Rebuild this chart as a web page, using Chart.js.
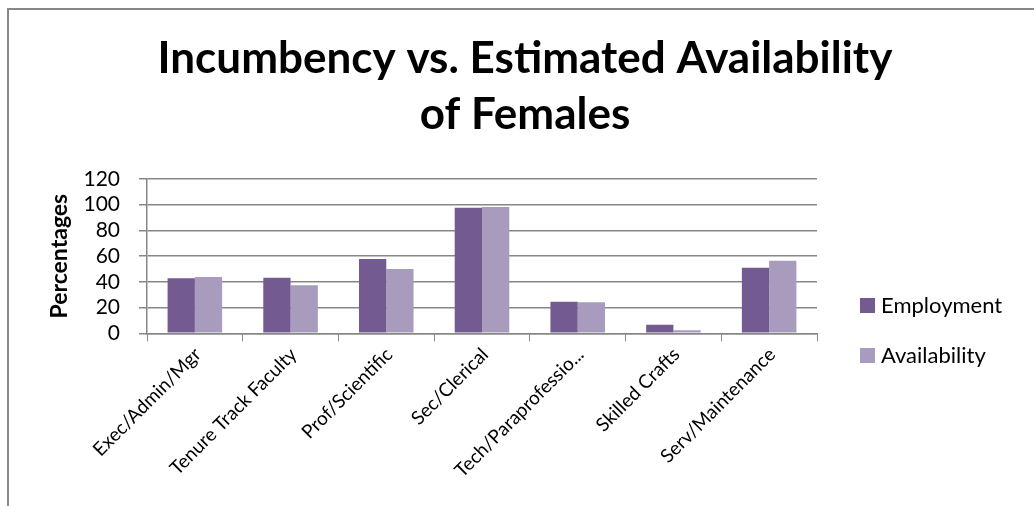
<!DOCTYPE html>
<html lang="en">
<head>
  <meta charset="UTF-8" />
  <title>Incumbency vs. Estimated Availability of Females</title>
  <script src="https://cdn.jsdelivr.net/npm/chart.js"></script>
  <style>
    body {
      margin: 0;
      background: #ffffff;
      overflow: hidden;
    }
    .frame {
      position: absolute;
      left: 7px;
      top: 8px;
      width: 1100px;
      height: 600px;
      border-left: 2px solid #878787;
      border-top: 2px solid #878787;
    }
    .chart-box {
      position: absolute;
      left: 0;
      top: 0;
      width: 1034px;
      height: 506px;
    }
  </style>
</head>
<body>
  <div class="frame"></div>
  <div class="chart-box">
    <canvas id="femaleChart"></canvas>
  </div>

  <script>
    // chart data
    const categories = ['Exec/Admin/Mgr', 'Tenure Track Faculty', 'Prof/Scientific', 'Sec/Clerical',
      'Tech/Paraprofessio...', 'Skilled Crafts', 'Serv/Maintenance'];
    const employment = [42.8, 43.3, 57.8, 97.7, 24.6, 6.7, 51.0];
    const availability = [43.8, 37.3, 50.0, 98.2, 24.1, 2.3, 56.5];
    const yTicks = [0, 20, 40, 60, 80, 100, 120];

    const fontFamily = 'Lato, "Open Sans", sans-serif';

    // legend drawn on the right side, like the original
    const sideLegend = {
      id: 'sideLegend',
      afterDraw(chart) {
        const ctx = chart.ctx;
        ctx.save();
        ctx.font = '22px ' + fontFamily;
        ctx.textBaseline = 'middle';
        chart.data.datasets.forEach((ds, i) => {
          const y = 305 + i * 50;
          ctx.fillStyle = ds.backgroundColor;
          ctx.fillRect(860, y - 7, 15, 15);
          ctx.fillStyle = '#000';
          ctx.fillText(ds.label, 881, y + 1);
        });
        ctx.restore();
      }
    };

    const ctx = document.getElementById('femaleChart').getContext('2d');
    const femaleChart = new Chart(ctx, {
      type: 'bar',
      data: {
        labels: categories,
        datasets: [
          { label: 'Employment', data: employment, backgroundColor: '#735a91' },
          { label: 'Availability', data: availability, backgroundColor: '#a99bbe' }
        ]
      },
      options: {
        responsive: true,
        maintainAspectRatio: false,
        animation: false,
        datasets: {
          bar: { barPercentage: 1, categoryPercentage: 0.57 }
        },
        layout: {
          padding: { left: 20, right: 4, top: 0, bottom: 22 }
        },
        plugins: {
          legend: { display: false },
          tooltip: { enabled: false },
          title: {
            display: true,
            text: ['Incumbency vs. Estimated Availability', 'of Females'],
            color: '#000',
            font: { family: fontFamily, size: 44, weight: 'bold', lineHeight: 1.2727 },
            padding: { top: 31, bottom: 36 }
          }
        },
        scales: {
          x: {
            grid: {
              display: true,
              drawOnChartArea: false,
              drawTicks: true,
              tickLength: 8,
              color: '#878787'
            },
            border: { color: '#878787', width: 1.5 },
            ticks: {
              color: '#000',
              font: { family: fontFamily, size: 19 },
              minRotation: 45,
              maxRotation: 45,
              autoSkip: false,
              labelOffset: 3,
              padding: 2
            }
          },
          y: {
            min: 0,
            max: 120,
            afterBuildTicks(axis) {
              axis.ticks = yTicks.map(v => ({ value: v }));
            },
            afterFit(axis) {
              axis.width = 127;
            },
            grid: { color: '#878787', lineWidth: 1.5, tickLength: 8 },
            border: { color: '#878787', width: 1.5 },
            ticks: {
              color: '#000',
              font: { family: fontFamily, size: 21 },
              autoSkip: false,
              padding: 19
            },
            title: {
              display: true,
              text: 'Percentages',
              color: '#000',
              font: { family: fontFamily, size: 23, weight: 'bold' },
              padding: { top: 26, bottom: 11 }
            }
          },
          // empty axis on the right that keeps room for the legend
          side: {
            position: 'right',
            display: true,
            grid: { display: false },
            border: { display: false },
            ticks: { display: false },
            afterFit(axis) {
              axis.width = 213;
            }
          }
        }
      },
      plugins: [sideLegend]
    });
  </script>
</body>
</html>
